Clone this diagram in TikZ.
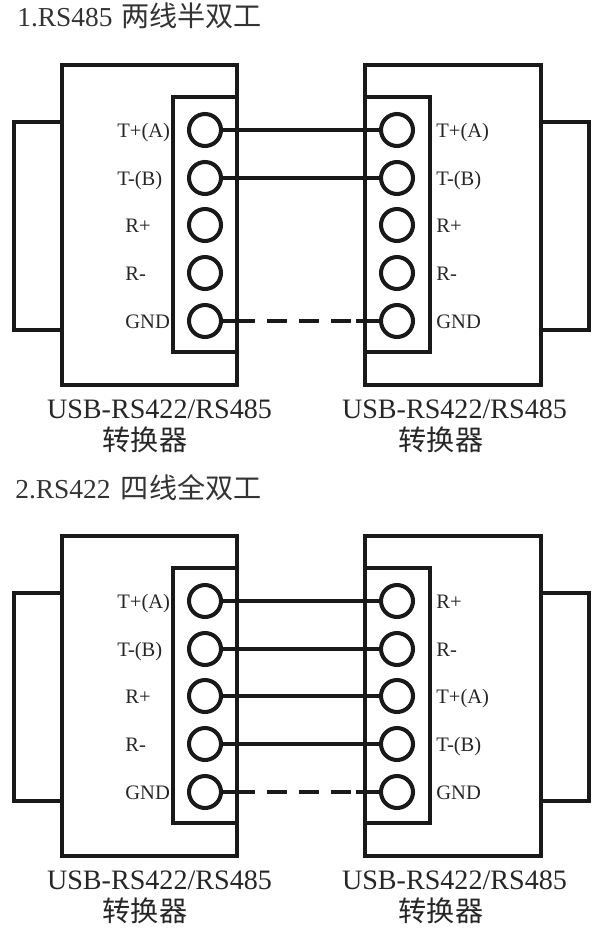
\documentclass[tikz,border=0pt]{standalone}
\usepackage{fontspec}
\setmainfont{Liberation Serif}
\newfontfamily\cjk{Noto Sans CJK SC}
\tikzset{
  boxline/.style={line width=2.3pt,black!90},
  pinhole/.style={circle,draw,line width=2.3pt,black!90,minimum size=0.64cm,inner sep=0pt},
  pintext/.style={anchor=base west,inner sep=0pt,font=\fontsize{11.7}{12}\selectfont,black!85},
  captext/.style={anchor=base,inner sep=0pt,font=\fontsize{16}{18}\selectfont,black!85},
  headtext/.style={anchor=base west,inner sep=0pt,font=\fontsize{15.6}{18}\selectfont,black!80},
  wire/.style={line width=2.3pt,black!90},
  gndwire/.style={wire,dash pattern=on .64cm off .24cm on .4cm off .24cm on .4cm off .24cm on .4cm off .1cm on .5cm}
}
\newcommand{\converters}{
\draw[boxline] (62,122) -- (14,122) -- (14,330) -- (62,330);
\draw[boxline] (62,65) rectangle (237,385);
\draw[boxline] (237,97) -- (173,97) -- (173,352) -- (237,352);
\draw[boxline] (541,122) -- (589,122) -- (589,330) -- (541,330);
\draw[boxline] (365,65) rectangle (541,385);
\draw[boxline] (365,97) -- (430,97) -- (430,352) -- (365,352);
\foreach \i/\y in {1/130,2/178,3/225,4/273,5/321} {
  \node[pinhole] (l\i) at (205,\y) {};
  \node[pinhole] (r\i) at (397,\y) {};
}
\node[captext] (capl) at (159.5,418) {USB-RS422/RS485};
\node[captext] (capr) at (454.5,418) {USB-RS422/RS485};
\node[captext] (cnvl) at (145,450) {\cjk 转换器};
\node[captext] (cnvr) at (441,450) {\cjk 转换器};
\draw[gndwire] (l5) -- (r5);
}

\begin{document}
\begin{tikzpicture}[x=0.02cm,y=-0.02cm]
\useasboundingbox (0,0) rectangle (600,933);
% half duplex
\begin{scope}[name prefix=top-]
\converters
\node[headtext] (head) at (17,27) {1.RS485\hspace{1pt} {\fontsize{16}{18}\selectfont\cjk 两线半双工}};
\foreach \i/\x/\y/\lab in {1/117/130/T+(A),2/117/178/T-(B),3/125/225/R+,4/125/273/R-,5/125/321/GND}
  \node[pintext] (tl\i) at (\x,\y+7) {\lab};
\foreach \i/\y/\lab in {1/130/T+(A),2/178/T-(B),3/225/R+,4/273/R-,5/321/GND}
  \node[pintext] (tr\i) at (436,\y+7) {\lab};
\draw[wire] (l1) -- (r1);
\draw[wire] (l2) -- (r2);
\end{scope}
% full duplex
\begin{scope}[shift={(0,471)},name prefix=bot-]
\converters
\node[headtext] (head) at (15,27) {2.RS422\hspace{2pt} {\fontsize{16}{18}\selectfont\cjk 四线全双工}};
\foreach \i/\x/\y/\lab in {1/117/130/T+(A),2/117/178/T-(B),3/125/225/R+,4/125/273/R-,5/125/321/GND}
  \node[pintext] (tl\i) at (\x,\y+7) {\lab};
\foreach \i/\y/\lab in {1/130/R+,2/178/R-,3/225/T+(A),4/273/T-(B),5/321/GND}
  \node[pintext] (tr\i) at (436,\y+7) {\lab};
\foreach \i in {1,2,3,4}
  \draw[wire] (l\i) -- (r\i);
\end{scope}
\end{tikzpicture}
\end{document}
